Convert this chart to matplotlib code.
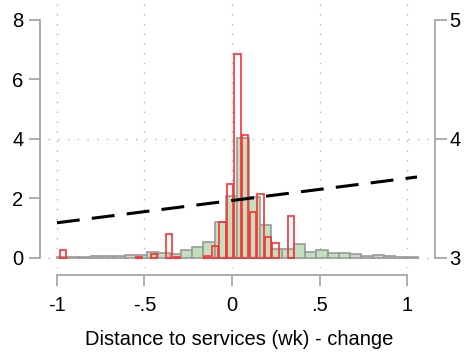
import numpy as np
import matplotlib
matplotlib.use("Agg")
import matplotlib.pyplot as plt

plt.rcParams['font.family'] = ['Liberation Sans', 'DejaVu Sans']

# green histogram (all), bins start at -1
green_start = -1.0
green_width = 0.0644
green_heights = [0.02, 0.02, 0.02, 0.07, 0.08, 0.05, 0.11, 0.09, 0.20, 0.17,
                 0.13, 0.25, 0.36, 0.53, 1.19, 2.08, 4.02, 2.06, 1.09, 0.31,
                 0.31, 0.46, 0.19, 0.25, 0.16, 0.17, 0.14, 0.05, 0.09, 0.05,
                 0.02, 0.03]

# red histogram (subgroup), outline only
red_start = -0.966
red_step = 0.0434
red_heights = [0.25, 0, 0, 0, 0, 0, 0, 0, 0, 0,
               0.03, 0, 0.13, 0, 0.80, 0.03, 0, 0, 0, 0.07,
               0.39, 1.20, 2.48, 6.87, 4.12, 1.53, 2.16, 0.70, 0.50, 0,
               1.42]

# fitted line (right axis)
line_x = [-1.0, 1.057]
line_y = [3.295, 3.68]

left_ticks = [0, 2, 4, 6, 8]
right_ticks = [3, 4, 5]
x_ticks = [-1, -0.5, 0, 0.5, 1]
x_ticklabels = ["-1", "-.5", "0", ".5", "1"]

gray = "#a0a0a0"
fs = 14.5

fig = plt.figure(figsize=(4.67, 3.54), dpi=100)
ax = fig.add_axes([48/467, 1 - 268/354, 382/467, 268/354])
ax.set_xlim(-1.051, 1.131)
ax.set_ylim(-0.34, 8.67)

# grid
dots = (0, (1, 6))
for xv in x_ticks:
    ax.axvline(xv, color="#b4b4b4", lw=1, ls=dots, zorder=0)
for yv in [0, 4]:
    ax.axhline(yv, color="#b4b4b4", lw=1, ls=dots, zorder=0)

g_left = green_start + green_width * np.arange(len(green_heights))
ax.bar(g_left, green_heights, width=green_width, align="edge",
       color="#c2dfc0", edgecolor="#9a9a9a", linewidth=1.2, zorder=2)

r_center = red_start + red_step * np.arange(len(red_heights))
r_h = np.array(red_heights)
keep = r_h > 0
ax.bar(r_center[keep], r_h[keep], width=0.037, align="center",
       facecolor="none", edgecolor="#ff3030", linewidth=1.2, zorder=3)

for s in ["top", "right"]:
    ax.spines[s].set_visible(False)
ax.spines["left"].set_position(("outward", 5.8))
ax.spines["left"].set_bounds(0, 8)
ax.spines["bottom"].set_position(("outward", 5))
ax.spines["bottom"].set_bounds(-1, 1)
for s in ["left", "bottom"]:
    ax.spines[s].set_color(gray)
    ax.spines[s].set_linewidth(1.2)

ax.set_yticks(left_ticks)
ax.set_xticks(x_ticks)
ax.set_xticklabels(x_ticklabels)
ax.tick_params(axis="y", length=8, width=1.2, color=gray, labelsize=fs, pad=4)
ax.tick_params(axis="x", length=8, width=1.2, color=gray, labelsize=fs, pad=7.5)
ax.set_xlabel("Distance to services (wk) - change", fontsize=fs, labelpad=10.5)

ax2 = ax.twinx()
ax2.set_ylim(3 + (-0.34) / 4, 3 + 8.67 / 4)
ax2.plot(line_x, line_y, color="black", lw=2.2, ls=(0, (7.5, 4)), zorder=5)
for s in ["top", "left", "bottom"]:
    ax2.spines[s].set_visible(False)
ax2.spines["right"].set_position(("outward", 3.6))
ax2.spines["right"].set_bounds(3, 5)
ax2.spines["right"].set_color(gray)
ax2.spines["right"].set_linewidth(1.2)
ax2.set_yticks(right_ticks)
ax2.tick_params(axis="y", length=8.5, width=1.2, color=gray, labelsize=fs, pad=2)

fig.savefig("out.png", dpi=100)
